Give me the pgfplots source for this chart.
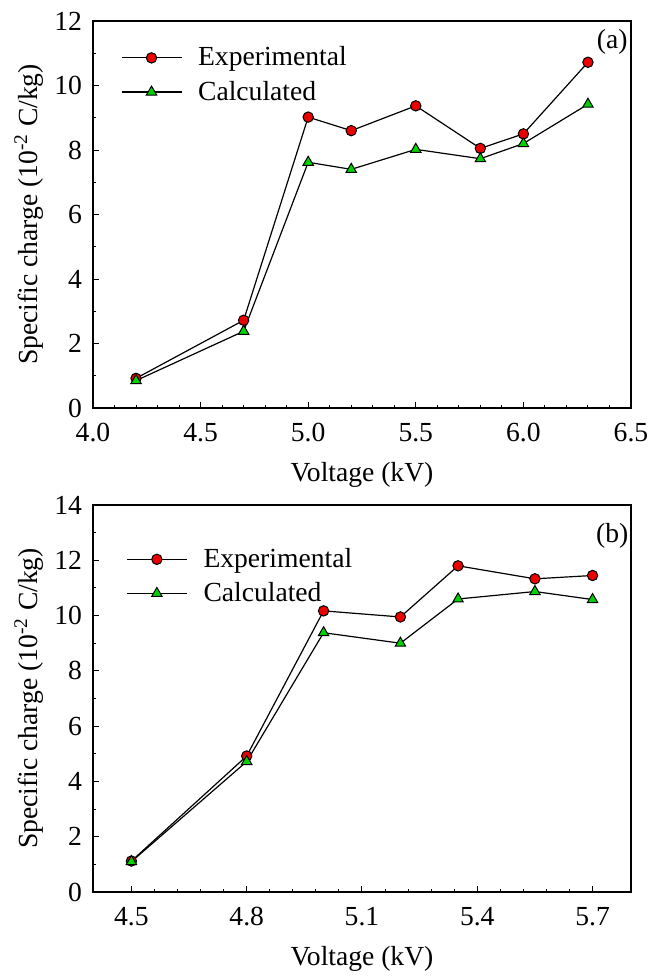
\documentclass[border=0pt]{standalone}
\usepackage{pgfplots}
\pgfplotsset{compat=1.18}
\usepackage{fontspec}
\setmainfont{Liberation Serif}

\definecolor{mred}{RGB}{235,0,0}
\definecolor{mgreen}{RGB}{0,210,0}

\pgfplotsset{
  panel/.style={
    scale only axis,
    width=269pt, height=193.5pt,
    axis line style={line width=0.7pt},
    tick align=inside,
    xtick pos=bottom, ytick pos=left,
    major tick length=3pt, minor tick length=1.6pt,
    tick style={black, line width=0.5pt},
    ticklabel style={font=\fontsize{13.8}{16}\selectfont},
    xticklabel style={yshift=-4pt},
    yticklabel style={xshift=-2pt},
    label style={font=\fontsize{13.8}{16}\selectfont},
    /pgf/number format/assume math mode=true,
    xlabel={Voltage (kV)},
    ylabel={Specific charge (10\textsuperscript{-2} C/kg)},
    xlabel style={yshift=-3.5pt},
    ylabel style={yshift=-1.5pt},
    legend cell align=left,
    legend style={draw=none, fill=none, font=\fontsize{13.8}{16}\selectfont,
      row sep=2pt, anchor=north west,
      /tikz/every odd column/.style={column sep=6pt}},
    legend image code/.code={
      \draw[mark repeat=2, mark phase=2, #1] plot coordinates {(0pt,0pt) (15pt,0pt) (30pt,0pt)};},
  },
  expt/.style={black, line width=0.6pt, mark=*, mark size=2.6pt,
    mark options={fill=mred, draw=black, line width=0.5pt}},
  calc/.style={black, line width=0.6pt, mark=triangle*, mark size=3pt,
    mark options={fill=mgreen, draw=black, line width=0.5pt}},
}

\begin{document}
\begin{tikzpicture}
\useasboundingbox (-46.5pt,-284pt) rectangle (278.5pt,204pt);

\begin{axis}[panel,
  at={(0pt,0pt)}, anchor=south west,
  xmin=4.0, xmax=6.5, ymin=0, ymax=12,
  xtick={4.0,4.5,5.0,5.5,6.0,6.5}, minor x tick num=4,
  ytick={0,2,4,6,8,10,12}, minor y tick num=1,
  xticklabel style={/pgf/number format/.cd, fixed, fixed zerofill, precision=1},
  legend style={at={(0.04,0.955)}},
]
\addplot[expt] coordinates {
  (4.2,0.92) (4.7,2.72) (5.0,9.02) (5.2,8.60) (5.5,9.37) (5.8,8.05) (6.0,8.50) (6.3,10.72)
};
\addlegendentry{Experimental}
\addplot[calc] coordinates {
  (4.2,0.85) (4.7,2.38) (5.0,7.62) (5.2,7.40) (5.5,8.02) (5.8,7.73) (6.0,8.20) (6.3,9.42)
};
\addlegendentry{Calculated}
\node[font=\fontsize{13.8}{16}\selectfont] at (rel axis cs:0.965,0.945) {(a)};
\end{axis}

\begin{axis}[panel,
  at={(0pt,-242pt)}, anchor=south west,
  xmin=4.4, xmax=5.8, ymin=0, ymax=14,
  xtick={4.5,4.8,5.1,5.4,5.7}, minor x tick num=4,
  ytick={0,2,4,6,8,10,12,14}, minor y tick num=1,
  xticklabel style={/pgf/number format/.cd, fixed, fixed zerofill, precision=1},
  legend style={at={(0.05,0.91)}},
]
\addplot[expt] coordinates {
  (4.5,1.12) (4.8,4.92) (5.0,10.17) (5.2,9.95) (5.35,11.80) (5.55,11.33) (5.7,11.45)
};
\addlegendentry{Experimental}
\addplot[calc] coordinates {
  (4.5,1.10) (4.8,4.72) (5.0,9.38) (5.2,9.00) (5.35,10.60) (5.55,10.87) (5.7,10.58)
};
\addlegendentry{Calculated}
\node[font=\fontsize{13.8}{16}\selectfont] at (rel axis cs:0.965,0.92) {(b)};
\end{axis}
\end{tikzpicture}
\end{document}
